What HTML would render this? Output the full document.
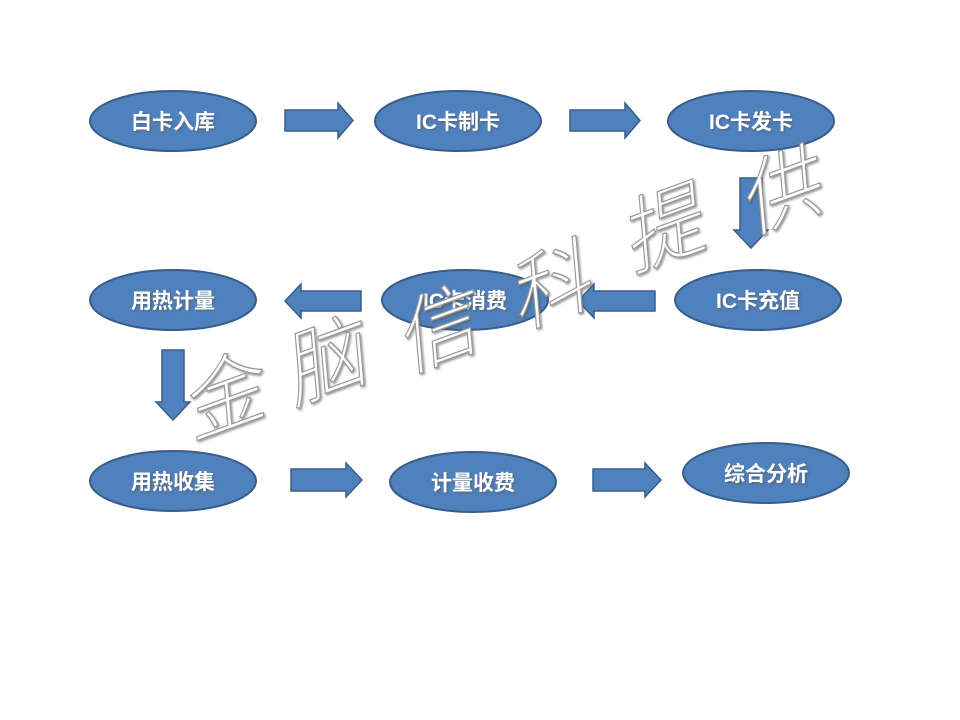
<!DOCTYPE html>
<html><head><meta charset="utf-8"><style>
html,body{margin:0;padding:0;background:#fff;}
svg{display:block;}
.e{fill:#4f81bd;stroke:#385d8a;stroke-width:2;}
.a{fill:#4f81bd;stroke:#385d8a;stroke-width:1.5;}
.t{font-family:"Liberation Sans","Noto Sans CJK SC",sans-serif;font-weight:bold;font-size:21px;fill:#fff;text-anchor:middle;}
.w{font-family:"Noto Sans CJK SC",sans-serif;font-weight:300;font-size:82px;fill:#fff;stroke:#9a9a9a;stroke-width:1.2;text-anchor:middle;}
</style></head><body>
<svg width="960" height="720" viewBox="0 0 960 720" xmlns="http://www.w3.org/2000/svg">
<defs><filter id="s" x="-10%" y="-10%" width="130%" height="130%"><feDropShadow dx="1.5" dy="1.5" stdDeviation="1" flood-color="#555" flood-opacity="0.6"/></filter></defs>
<ellipse class="e" cx="173" cy="121" rx="83" ry="30"/>
<ellipse class="e" cx="458" cy="121" rx="83" ry="30"/>
<ellipse class="e" cx="751" cy="121" rx="83" ry="30"/>
<polygon class="a" points="285,110 338,110 338,103 353,120.5 338,138 338,131 285,131"/>
<polygon class="a" points="570,110 625,110 625,103 640,120.5 625,138 625,131 570,131"/>
<polygon class="a" points="740,178 762,178 762,230 768,230 751,248 734,230 740,230"/>
<ellipse class="e" cx="173" cy="300" rx="83" ry="30"/>
<ellipse class="e" cx="465" cy="300" rx="83" ry="30"/>
<ellipse class="e" cx="758" cy="300" rx="83" ry="30"/>
<polygon class="a" points="361,291 301,291 301,284 285,301 301,318 301,311 361,311"/>
<polygon class="a" points="655,291 594,291 594,284 578,301 594,318 594,311 655,311"/>
<polygon class="a" points="162,350 184,350 184,402 190,402 173,420 156,402 162,402"/>
<ellipse class="e" cx="173" cy="481" rx="83" ry="30"/>
<ellipse class="e" cx="473" cy="482" rx="83" ry="30"/>
<ellipse class="e" cx="766" cy="473" rx="83" ry="30"/>
<polygon class="a" points="291,469 346,469 346,463 362,480 346,497 346,491 291,491"/>
<polygon class="a" points="593,469 645,469 645,463 661,480 645,497 645,491 593,491"/>
<g filter="url(#s)">
<text class="t" x="173" y="129">白卡入库</text>
<text class="t" x="458" y="129">IC卡制卡</text>
<text class="t" x="751" y="129">IC卡发卡</text>
<text class="t" x="173" y="308">用热计量</text>
<text class="t" x="465" y="308">IC卡消费</text>
<text class="t" x="758" y="308">IC卡充值</text>
<text class="t" x="173" y="489">用热收集</text>
<text class="t" x="473" y="490">计量收费</text>
<text class="t" x="766" y="481">综合分析</text>
</g>
<g filter="url(#s)">
<text class="w" transform="translate(230,425) rotate(-20) skewX(-15)">金</text>
<text class="w" transform="translate(332,390) rotate(-20) skewX(-15)">脑</text>
<text class="w" transform="translate(444,358) rotate(-20) skewX(-15)">信</text>
<text class="w" transform="translate(557,315) rotate(-20) skewX(-15)">科</text>
<text class="w" transform="translate(670,257) rotate(-20) skewX(-15)">提</text>
<text class="w" transform="translate(787,220) rotate(-20) skewX(-15)">供</text>
</g>
</svg>
</body></html>
